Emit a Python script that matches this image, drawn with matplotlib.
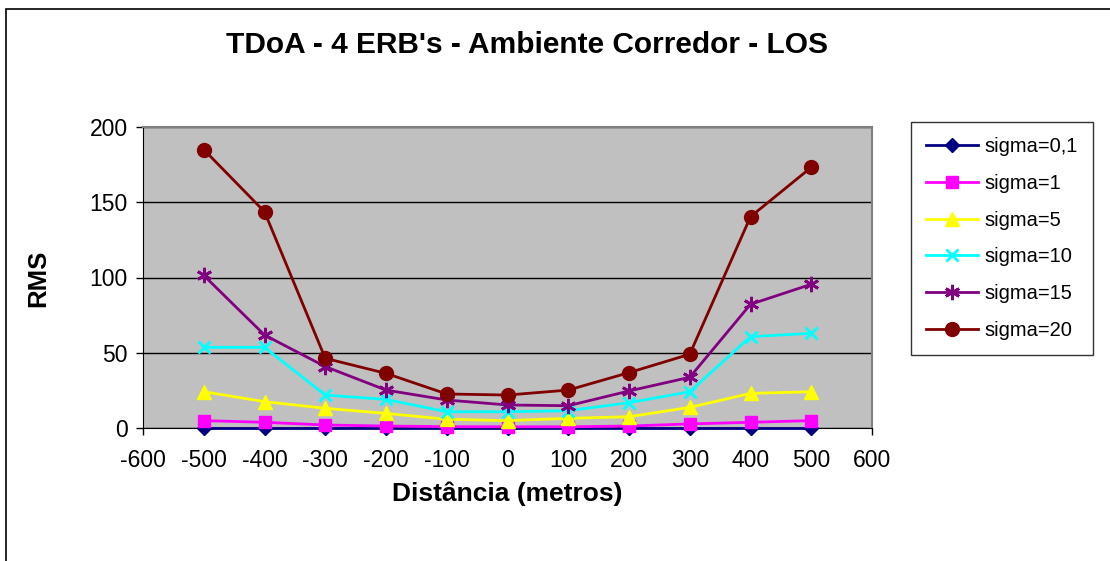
import matplotlib
matplotlib.use("Agg")
import matplotlib.pyplot as plt
from matplotlib.patches import Rectangle

plt.rcParams['font.family'] = ['Liberation Sans', 'DejaVu Sans']
plt.rcParams['axes.unicode_minus'] = False

distances = [-500, -400, -300, -200, -100, 0, 100, 200, 300, 400, 500]
labels = ["sigma=0,1", "sigma=1", "sigma=5", "sigma=10", "sigma=15", "sigma=20"]
s01 = [0.1, 0.1, 0.1, 0.1, 0.1, 0.1, 0.1, 0.1, 0.1, 0.1, 0.1]
s1 = [4.9, 3.8, 2.0, 1.3, 0.9, 0.8, 0.8, 1.3, 2.7, 3.8, 4.9]
s5 = [24.1, 17.5, 13.1, 9.7, 5.8, 4.9, 6.4, 7.5, 13.7, 23.0, 24.1]
s10 = [53.6, 53.6, 21.9, 19.0, 10.8, 10.8, 11.5, 16.8, 24.1, 60.7, 62.9]
s15 = [101.4, 61.8, 40.8, 25.2, 18.6, 15.3, 14.8, 24.6, 33.7, 82.2, 95.5]
s20 = [185.0, 143.7, 46.3, 36.3, 22.6, 21.9, 25.2, 36.8, 49.0, 140.4, 173.2]
series = [s01, s1, s5, s10, s15, s20]

colors = ["#000080", "#FF00FF", "#FFFF00", "#00FFFF", "#800080", "#800000"]
markers = ["D", "s", "^", "x", (6, 2, 0), "o"]
msizes = [7, 9, 10, 9, 11, 10]

fig = plt.figure(figsize=(11.1, 5.61), dpi=100)
fig.patches.append(Rectangle((6/1110, -0.1), 1.2, 1 - 9/561 + 0.1,
                             transform=fig.transFigure, fill=False,
                             edgecolor="black", linewidth=1.2))

ax = fig.add_axes([143/1110, 1 - 428/561, (872-143)/1110, (428-127)/561])
ax.set_facecolor("#C0C0C0")

for vals, lab, c, m, ms in zip(series, labels, colors, markers, msizes):
    mew = 2 if m in ("x", (6, 2, 0)) else 1
    ax.plot(distances, vals, color=c, marker=m, markersize=ms, linewidth=2,
            markeredgewidth=mew, markeredgecolor=c, label=lab, clip_on=False,
            zorder=3)

ax.set_xlim(-600, 600)
ax.set_ylim(0, 200)
ax.set_xticks(range(-600, 601, 100))
ax.set_yticks(range(0, 201, 50))
ax.yaxis.grid(True, color="black", linewidth=1)
ax.set_axisbelow(True)
ax.tick_params(axis="both", labelsize=16.5, direction="out", length=5,
               color="black", width=1)
ax.tick_params(axis="x", pad=10)
ax.tick_params(axis="y", pad=6)
for side in ("top", "right"):
    ax.spines[side].set_color("#808080")
    ax.spines[side].set_linewidth(1.5)
ax.spines["left"].set_color("black")
ax.spines["bottom"].set_color("black")

fig.text(0.475, 1 - 45/561, "TDoA - 4 ERB's - Ambiente Corredor - LOS",
         ha="center", va="center", fontsize=21.5, fontweight="bold")
fig.text(507/1110, 1 - 494/561, "Distância (metros)", ha="center", va="center",
         fontsize=19, fontweight="bold")
fig.text(38/1110, 1 - 278/561, "RMS", rotation=90, ha="center", va="center",
         fontsize=18.5, fontweight="bold")

leg = fig.legend(loc="upper left", bbox_to_anchor=(911/1110, 1 - 122/561),
                 fontsize=14.5, frameon=True, fancybox=False, edgecolor="black",
                 borderpad=0.75, labelspacing=0.88, handlelength=2.6,
                 handletextpad=0.3, borderaxespad=0)
leg.get_frame().set_linewidth(1)

fig.savefig("out.png", dpi=100)
